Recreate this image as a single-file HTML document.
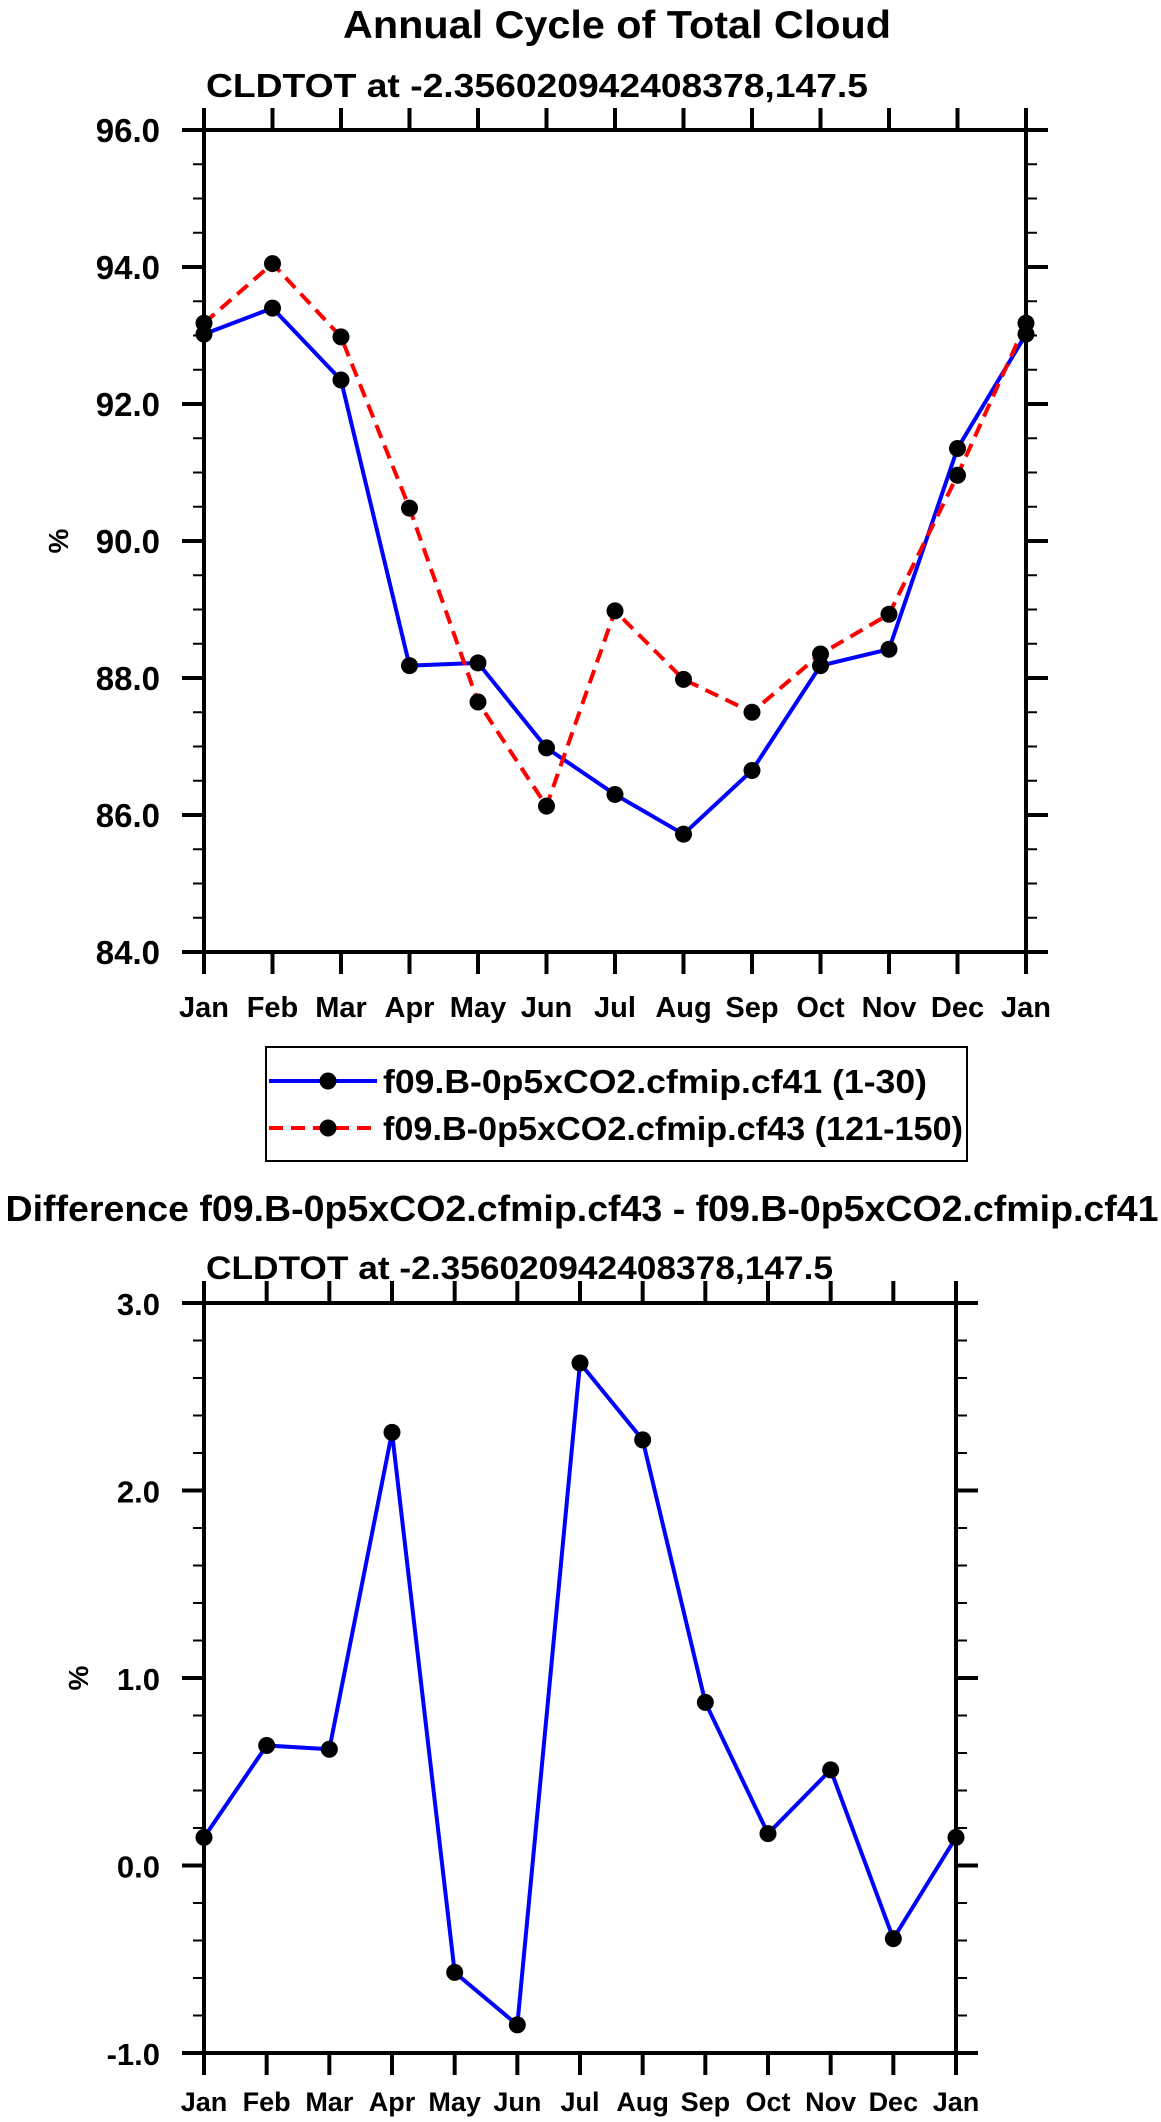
<!DOCTYPE html>
<html><head><meta charset="utf-8"><style>
html,body{margin:0;padding:0;background:#fff;}
svg{display:block;font-family:"Liberation Sans",sans-serif;font-weight:bold;}
</style></head><body>
<svg id="chart" width="1161" height="2122" viewBox="0 0 1161 2122" xmlns="http://www.w3.org/2000/svg">
<text x="617" y="38" text-anchor="middle" font-size="39" textLength="548" lengthAdjust="spacingAndGlyphs">Annual Cycle of Total Cloud</text>
<text x="206" y="97" font-size="33" textLength="662" lengthAdjust="spacingAndGlyphs">CLDTOT at -2.356020942408378,147.5</text>
<g id="top"></g>
<g>
<rect x="266" y="1047" width="701" height="114" fill="none" stroke="#000" stroke-width="2"/>
<g>
<line x1="269" y1="1081" x2="377" y2="1081" stroke="#0000ff" stroke-width="4"/>
<circle cx="328" cy="1081" r="8.5" fill="#000"/>
<text x="383" y="1093" font-size="33" textLength="544" lengthAdjust="spacingAndGlyphs">f09.B-0p5xCO2.cfmip.cf41 (1-30)</text>
</g>
<g>
<line x1="269" y1="1128" x2="377" y2="1128" stroke="#ff0000" stroke-width="4" stroke-dasharray="14,8"/>
<circle cx="328" cy="1128" r="8.5" fill="#000"/>
<text x="383" y="1140" font-size="33" textLength="580" lengthAdjust="spacingAndGlyphs">f09.B-0p5xCO2.cfmip.cf43 (121-150)</text>
</g>
</g>
<text x="582" y="1221" text-anchor="middle" font-size="36" textLength="1153" lengthAdjust="spacingAndGlyphs">Difference f09.B-0p5xCO2.cfmip.cf43 - f09.B-0p5xCO2.cfmip.cf41</text>
<text x="206" y="1279" font-size="32" textLength="627" lengthAdjust="spacingAndGlyphs">CLDTOT at -2.356020942408378,147.5</text>
<g id="bot"></g>
</svg>
<script>
const months = ["Jan","Feb","Mar","Apr","May","Jun","Jul","Aug","Sep","Oct","Nov","Dec","Jan"];
const cf41 = [93.02,93.4,92.35,88.18,88.22,86.98,86.3,85.72,86.65,88.18,88.42,91.35,93.02];
const cf43 = [93.18,94.05,92.98,90.48,87.65,86.13,88.98,87.98,87.5,88.35,88.93,90.96,93.18];
const diffVals = [0.15,0.64,0.62,2.31,-0.57,-0.85,2.68,2.27,0.87,0.17,0.51,-0.39,0.15];
const topTicks = ["84.0","86.0","88.0","90.0","92.0","94.0","96.0"];
const botTicks = ["-1.0","0.0","1.0","2.0","3.0"];
const NS="http://www.w3.org/2000/svg";
function mk(p,t,a){const e=document.createElementNS(NS,t);for(const k in a)e.setAttribute(k,a[k]);p.appendChild(e);return e;}
function plot(g,o){
  const sx=i=>o.x0+(o.x1-o.x0)*i/(months.length-1);
  const sy=v=>o.y1-(v-o.ymin)/(o.ymax-o.ymin)*(o.y1-o.y0);
  for(let v=o.ymin;v<=o.ymax+1e-9;v+=o.minor){
    const y=sy(v);
    const t1=mk(g,'line',{x1:o.x0-11,y1:y,x2:o.x0,y2:y,stroke:'#000','stroke-width':2});
    
    
    const t2=mk(g,'line',{x1:o.x1,y1:y,x2:o.x1+11,y2:y,stroke:'#000','stroke-width':2});
    
    
  }
  o.ticks.forEach(lbl=>{
    const y=sy(parseFloat(lbl));
    const t=mk(g,'line',{x1:o.x0-22,y1:y,x2:o.x0,y2:y,stroke:'#000','stroke-width':4});
    
    
    const t2=mk(g,'line',{x1:o.x1,y1:y,x2:o.x1+22,y2:y,stroke:'#000','stroke-width':4});
    
    
    const tx=mk(g,'text',{x:o.x0-44,y:y+12,'text-anchor':'end','font-size':o.yfs});
    tx.textContent=lbl;
    
    
  });
  months.forEach((m,i)=>{
    const x=sx(i);
    const a=mk(g,'line',{x1:x,y1:o.y1,x2:x,y2:o.y1+22,stroke:'#000','stroke-width':4});
    
    
    const b=mk(g,'line',{x1:x,y1:o.y0-22,x2:x,y2:o.y0,stroke:'#000','stroke-width':4});
    
    
    const tx=mk(g,'text',{x:x,y:o.y1+o.xoff,'text-anchor':'middle','font-size':o.xfs});
    tx.textContent=m;
    
    
  });
  const fr=mk(g,'rect',{x:o.x0,y:o.y0,width:o.x1-o.x0,height:o.y1-o.y0,fill:'none',stroke:'#000','stroke-width':4});
  
  
  const yl=mk(g,'text',{x:0,y:0,'text-anchor':'middle','font-size':28,transform:`translate(${o.ylx},${(o.y0+o.y1)/2}) rotate(-90)`});
  yl.textContent='%';
  
  
  o.series.forEach(s=>{
    const pl=mk(g,'polyline',{points:s.v.map((v,i)=>sx(i)+','+sy(v)).join(' '),fill:'none',stroke:s.c,'stroke-width':4,'stroke-dasharray':s.d||'none'});
    
    
  });
  o.series.forEach(s=>{
    s.v.forEach((v,i)=>{
      const c=mk(g,'circle',{cx:sx(i),cy:sy(v),r:8.5,fill:'#000'});
      
      
    });
  });
}
plot(document.getElementById('top'),{x0:204,x1:1026,y0:130,y1:952,ymin:84,ymax:96,minor:0.5,ticks:topTicks,yfs:33,xfs:29,xoff:65,ylx:68,
  series:[{v:cf41,c:'#0000ff',n:'cf41'},{v:cf43,c:'#ff0000',d:'14,8',n:'cf43'}]});
plot(document.getElementById('bot'),{x0:204,x1:956,y0:1303,y1:2053,ymin:-1,ymax:3,minor:0.2,ticks:botTicks,yfs:31,xfs:27,xoff:58,ylx:88,
  series:[{v:diffVals,c:'#0000ff',n:'difference'}]});
</script>
</body></html>
